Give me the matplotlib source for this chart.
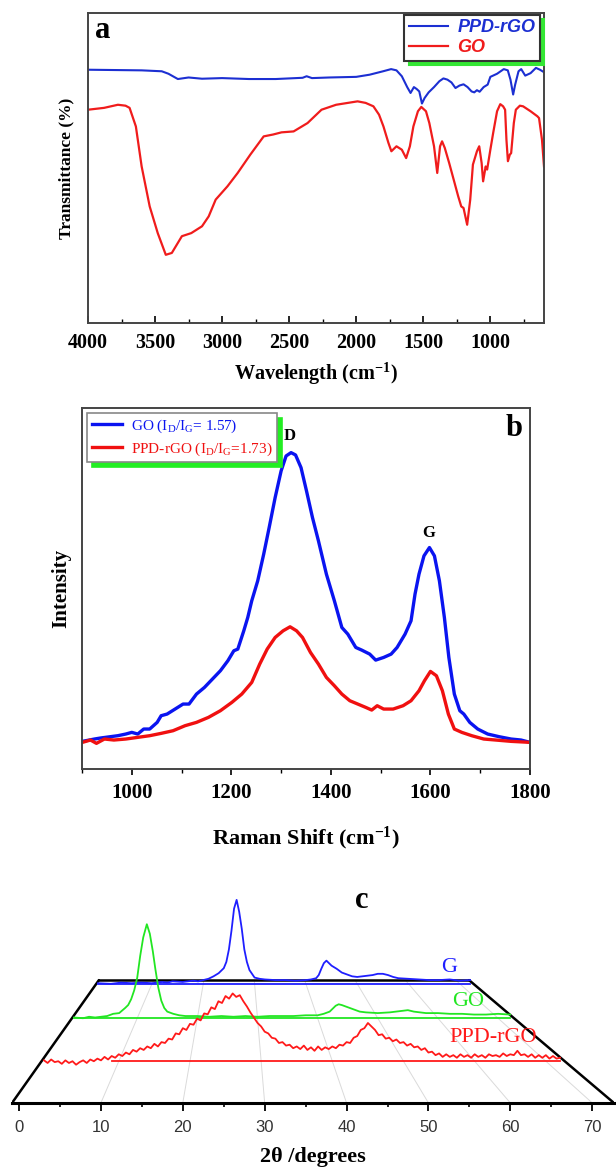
import numpy as np
import matplotlib
matplotlib.use('Agg')
import matplotlib.pyplot as plt
import matplotlib.transforms as mtransforms
from matplotlib.ticker import MultipleLocator

plt.rcParams['font.family'] = ['Liberation Serif', 'DejaVu Serif']
plt.rcParams['mathtext.fontset'] = 'custom'
plt.rcParams['mathtext.rm'] = 'Liberation Serif'
plt.rcParams['mathtext.bf'] = 'Liberation Serif:bold'
plt.rcParams['mathtext.it'] = 'Liberation Serif:italic'

# ---- (a) FTIR ----
ftir_rgo_wn = [4000, 3600, 3450, 3400, 3330, 3250, 3150, 3000, 2800, 2600, 2400, 2370, 2330, 2200,
               2000, 1900, 1800, 1740, 1700, 1660, 1620, 1595, 1570, 1550, 1530, 1510, 1490, 1460,
               1420, 1380, 1350, 1320, 1290, 1260, 1230, 1200, 1170, 1140, 1120, 1100, 1080, 1050,
               1020, 1000, 950, 900, 870, 850, 830, 815, 790, 770, 740, 700, 660, 630, 600]
ftir_rgo_t = [81.7, 81.5, 81.2, 80.4, 78.7, 79.2, 78.8, 79.0, 78.7, 78.7, 79.1, 79.6, 79.0, 79.2,
              79.4, 80.1, 81.2, 81.9, 81.5, 79.6, 76.1, 74.2, 76.1, 75.5, 74.7, 70.8, 72.6, 74.4,
              76.1, 78.0, 78.9, 78.5, 77.6, 75.8, 76.6, 77.0, 76.1, 74.7, 74.4, 75.1, 74.6, 76.1,
              76.9, 79.4, 80.4, 81.9, 81.5, 78.5, 73.7, 76.9, 81.2, 81.9, 79.8, 80.6, 82.3, 81.7, 80.9]
ftir_go_wn = [4000, 3880, 3777, 3720, 3690, 3643, 3600, 3540, 3480, 3420, 3375, 3300, 3230, 3150,
              3100, 3048, 2960, 2884, 2790, 2690, 2620, 2557, 2467, 2363, 2259, 2150, 1990, 1930,
              1872, 1830, 1797, 1760, 1738, 1700, 1660, 1628, 1600, 1574, 1540, 1515, 1480, 1455,
              1420, 1396, 1375, 1360, 1340, 1307, 1270, 1240, 1217, 1200, 1173, 1150, 1130, 1100,
              1083, 1065, 1054, 1035, 1024, 1000, 979, 950, 926, 905, 890, 880, 869, 855, 845,
              825, 810, 780, 756, 700, 650, 637, 615, 600]
ftir_go_t = [68.8, 69.4, 70.4, 70.1, 69.4, 63.4, 50.5, 37.6, 29.0, 22.0, 22.6, 28.0, 29.0, 31.2,
             34.4, 39.8, 44.1, 48.4, 54.3, 60.2, 60.8, 61.5, 61.8, 64.5, 68.8, 70.4, 71.5, 71.0,
             69.9, 67.2, 63.4, 58.1, 55.4, 57.0, 55.9, 53.2, 57.0, 63.4, 68.3, 69.7, 68.3, 64.5,
             57.0, 48.4, 57.0, 58.6, 56.5, 51.6, 45.7, 40.9, 37.6, 37.1, 31.7, 39.8, 51.1, 55.4,
             57.0, 51.6, 45.7, 50.5, 49.5, 55.9, 61.3, 68.3, 70.6, 69.9, 68.8, 59.1, 52.2, 54.3, 54.8,
             64.5, 68.8, 70.1, 69.9, 68.3, 66.7, 66.1, 59.1, 50.5]

# ---- (b) Raman ----
raman_go_x = [901, 925, 937, 957, 972, 988, 1000, 1012, 1024, 1036, 1051, 1059, 1071, 1087, 1103,
              1115, 1130, 1146, 1162, 1178, 1193, 1205, 1213, 1225, 1233, 1241, 1253, 1265, 1276,
              1288, 1300, 1310, 1320, 1329, 1340, 1351, 1363, 1375, 1391, 1407, 1422, 1434, 1450,
              1462, 1478, 1490, 1506, 1521, 1533, 1549, 1561, 1569, 1577, 1587, 1598, 1608, 1618,
              1628, 1637, 1648, 1659, 1667, 1679, 1695, 1715, 1738, 1762, 1782, 1800]
raman_go_y = [83, 90, 93, 97, 100, 105, 110, 105, 120, 120, 140, 160, 165, 180, 195,
              195, 225, 245, 270, 295, 325, 355, 360, 415, 455, 505, 565, 645, 725,
              815, 895, 940, 950, 943, 905, 835, 755, 685, 585, 505, 425, 405, 365,
              357, 345, 327, 335, 345, 365, 405, 445, 525, 585, 640, 665, 640, 565,
              455, 335, 225, 175, 165, 140, 120, 105, 97, 90, 87, 80]
raman_rgo_x = [901, 917, 929, 945, 964, 988, 1012, 1036, 1059, 1083, 1107, 1130, 1154, 1178, 1201,
               1221, 1241, 1257, 1272, 1288, 1304, 1318, 1331, 1343, 1359, 1375, 1391, 1407, 1422,
               1438, 1454, 1470, 1482, 1493, 1506, 1525, 1545, 1561, 1577, 1588, 1600, 1612, 1624,
               1636, 1648, 1663, 1683, 1707, 1731, 1762, 1800]
raman_rgo_y = [80, 87, 77, 90, 87, 90, 95, 100, 107, 115, 130, 140, 155, 175, 200,
               225, 260, 315, 360, 395, 415, 427, 415, 395, 350, 315, 275, 250, 225,
               205, 195, 185, 177, 190, 180, 180, 190, 205, 235, 265, 293, 280, 235,
               165, 120, 110, 100, 90, 87, 83, 80]

# ---- (c) XRD ----
xrd_g_tt = [-0.5, 2, 4, 6, 8, 10, 12, 13, 14, 16, 18, 19, 20, 21, 22, 23, 24, 24.5, 25, 25.5, 26,
            26.5, 27, 27.5, 28, 28.5, 29, 30, 31, 32, 34, 36, 38, 40, 41, 42, 42.5, 43, 43.5, 44,
            44.5, 45, 46, 47, 48, 49, 50, 51, 52, 53, 54, 55, 56, 57, 58, 60, 62, 64, 66, 68, 70, 72]
xrd_g_i = [1, 0, 2, 1, 2, 1, 3, 2, 4, 3, 5, 4, 6, 8, 12, 17, 25, 35, 55, 85, 120,
           134, 115, 88, 55, 35, 22, 10, 8, 7, 6, 6, 5, 6, 7, 9, 14, 24, 33, 37,
           33, 29, 24, 18, 15, 12, 11, 12, 13, 14, 16, 16, 14, 11, 9, 8, 7, 6, 6, 7, 5, 6]
xrd_go_tt = [-0.5, 1, 2, 3, 4, 5, 6, 7, 8, 8.5, 9, 9.5, 10, 10.5, 11, 11.6, 12.1, 12.6, 13, 13.5,
             14, 14.5, 15, 16, 17, 18, 20, 22, 24, 26, 28, 30, 32, 34, 36, 38, 40, 41, 42, 42.5,
             43, 43.5, 44, 45, 46, 47, 48, 50, 52, 54, 55, 56, 58, 60, 62, 64, 66, 68, 70, 72]
xrd_go_i = [1, 0, 2, 1, 2, 3, 6, 7, 14, 18, 26, 38, 55, 85, 110, 128, 115, 91, 68, 42,
            24, 14, 9, 6, 4, 3, 3, 2, 3, 2, 3, 2, 3, 3, 3, 4, 4, 6, 9, 13,
            17, 19, 18, 15, 12, 9, 8, 7, 8, 10, 11, 9, 7, 7, 6, 6, 5, 5, 6, 5]
xrd_rgo_tt = [-0.5 + 0.5 * k for k in range(146)]
xrd_rgo_i = [1, -2, 2, -1, 0, -3, 1, -2, 0, -4, -1, 1, -2, 2, 0, 3, 1, 5, 2, 6,
             4, 8, 6, 10, 8, 13, 11, 15, 13, 17, 15, 20, 17, 22, 21, 26, 25, 32, 31, 38,
             36, 43, 42, 49, 47, 55, 54, 62, 60, 69, 67, 75, 72, 78, 74, 76, 69, 63, 56, 50,
             44, 40, 34, 32, 27, 26, 21, 22, 18, 19, 15, 17, 14, 18, 13, 16, 12, 17, 13, 16,
             14, 17, 15, 19, 18, 22, 21, 27, 29, 36, 38, 44, 40, 36, 30, 31, 26, 27, 23, 25,
             21, 22, 18, 20, 16, 17, 13, 15, 10, 11, 7, 9, 5, 8, 5, 7, 4, 8, 5, 7,
             4, 8, 5, 7, 4, 8, 6, 7, 5, 9, 6, 8, 7, 12, 7, 8, 5, 8, 4, 7,
             4, 7, 3, 6, 3, 4]
xrd_labels = ['G', 'GO', 'PPD-rGO']
xrd_depth = [0.97, 0.69, 0.34]
xrd_base_start = [-0.5, -0.5, 9.0]
xrd_colors = ['#1f1fff', '#22e622', '#ff1a1a']

W, H = 616, 1169
fig = plt.figure(figsize=(W / 100, H / 100), dpi=100)


def box(l, t, r, b):
    return [l / W, 1 - b / H, (r - l) / W, (b - t) / H]


tick_font = {'family': 'Liberation Serif', 'weight': 'bold', 'size': 14.5}

# panel a
ax1 = fig.add_axes(box(88, 13, 544, 323))
ax1.plot(ftir_rgo_wn, ftir_rgo_t, color='#1c2fd2', lw=1.5, label='PPD-rGO')
ax1.plot(ftir_go_wn, ftir_go_t, color='#f01c1c', lw=1.6, label='GO')
ax1.set_xlim(4000, 600)
ax1.set_ylim(0, 100)
ax1.set_yticks([])
ax1.xaxis.set_major_locator(MultipleLocator(500))
ax1.xaxis.set_minor_locator(MultipleLocator(250))
ax1.tick_params(axis='x', which='both', direction='in', top=False, pad=7)
ax1.tick_params(axis='x', which='major', length=5, width=1.2)
ax1.tick_params(axis='x', which='minor', length=3, width=1.0)
for lab in ax1.get_xticklabels():
    lab.set_fontproperties(tick_font)
ax1.set_xlabel('Wavelength (cm$^{\\mathbf{-1}}$)', fontsize=14.5, fontweight='bold', labelpad=6)
ax1.set_ylabel('Transmittance (%)', fontsize=12.5, fontweight='bold', labelpad=10)
for sp in ax1.spines.values():
    sp.set_color('#444444')
    sp.set_linewidth(1.4)
leg1 = ax1.legend(loc='upper right', bbox_to_anchor=(0.991, 0.994), borderaxespad=0,
                  prop={'family': 'Liberation Sans', 'weight': 'bold', 'style': 'italic', 'size': 13},
                  labelcolor='linecolor', fancybox=False, framealpha=1, edgecolor='#333333',
                  shadow={'ox': 3.2, 'oy': -3.2, 'color': '#33e633', 'alpha': 1},
                  handlelength=2.2, borderpad=0.25, labelspacing=0.15, handletextpad=0.5)
leg1.get_frame().set_linewidth(1.5)
fig.text(103 / W, 1 - 30 / H, 'a', fontsize=22, fontweight='bold', ha='center', va='center')

# panel b
ax2 = fig.add_axes(box(82, 408, 530, 769))
ax2.plot(raman_go_x, raman_go_y, color='#0a14f0', lw=2.4, solid_joinstyle='round',
         label='GO (I$_\\mathrm{D}$/I$_\\mathrm{G}$= 1.57)')
ax2.plot(raman_rgo_x, raman_rgo_y, color='#f01010', lw=2.4, solid_joinstyle='round',
         label='PPD-rGO (I$_\\mathrm{D}$/I$_\\mathrm{G}$=1.73)')
ax2.set_xlim(900, 1800)
ax2.set_ylim(0, 1084)
ax2.set_yticks([])
ax2.xaxis.set_major_locator(MultipleLocator(200))
ax2.xaxis.set_minor_locator(MultipleLocator(100))
ax2.tick_params(axis='x', which='both', direction='out', top=False, pad=6)
ax2.tick_params(axis='x', which='major', length=4, width=1.2)
ax2.tick_params(axis='x', which='minor', length=3, width=1.0)
for lab in ax2.get_xticklabels():
    lab.set_fontproperties(dict(tick_font, size=15))
ax2.set_xlabel('Raman Shift (cm$^{\\mathbf{-1}}$)', fontsize=16, fontweight='bold', labelpad=16)
ax2.set_ylabel('Intensity', fontsize=15, fontweight='bold', labelpad=8)
for sp in ax2.spines.values():
    sp.set_color('#444444')
    sp.set_linewidth(1.4)
ax2.text(1318, 1000, 'D', fontsize=12, fontweight='bold', ha='center', va='center')
ax2.text(1596, 709, 'G', fontsize=12, fontweight='bold', ha='center', va='center')
leg2 = ax2.legend(loc='upper left', bbox_to_anchor=(0.011, 0.986), borderaxespad=0,
                  prop={'family': 'Liberation Serif', 'size': 11},
                  labelcolor='linecolor', fancybox=False, framealpha=1, edgecolor='#888888',
                  shadow={'ox': 3.6, 'oy': -3.6, 'color': '#22ee22', 'alpha': 1},
                  handlelength=2.0, borderpad=0.3, labelspacing=0.35, handletextpad=0.6)
leg2.get_frame().set_linewidth(1.2)
fig.text(514 / W, 1 - 428 / H, 'b', fontsize=22, fontweight='bold', ha='center', va='center')

# panel c: waterfall on a perspective floor
ax3 = fig.add_axes(box(12, 865, 614, 1103))
U0, U1 = -0.85, 72.65      # floor extent in 2theta units (front edge)
VX = 26.7                  # vanishing point, 2theta units
SHRINK = 0.385             # scale lost from front to back edge
DEPTH_H = 15.0             # floor depth on screen (data units)
KY = 1 / 8.19              # intensity (a.u.) to data units
ax3.set_xlim(U0, U1)
ax3.set_ylim(0, 29.06)


def plane(d):
    s = 1 - SHRINK * d
    return mtransforms.Affine2D().translate(-VX, 0).scale(s, s * KY).translate(VX, DEPTH_H * d) + ax3.transData


def floor_xy(u, d):
    d = np.asarray(d, dtype=float)
    return VX + (u - VX) * (1 - SHRINK * d), DEPTH_H * d


for u in range(10, 71, 10):
    gx, gy = floor_xy(u, [0, 1])
    ax3.plot(gx, gy, color='#dadada', lw=0.7, zorder=1)
for u in (U0, U1):
    ex, ey = floor_xy(u, [0, 1])
    ax3.plot(ex, ey, color='black', lw=1.8, zorder=2, solid_capstyle='round')
bx, by = floor_xy(np.array([U0, U1]), [1, 1])
ax3.plot(bx, by, color='black', lw=1.8, zorder=2)

traces = [(xrd_g_tt, xrd_g_i), (xrd_go_tt, xrd_go_i), (xrd_rgo_tt, xrd_rgo_i)]
for (tt, inten), d, c, b0 in zip(traces, xrd_depth, xrd_colors, xrd_base_start):
    tr = plane(d)
    ax3.plot([b0, tt[-1]], [0, 0], color=c, lw=1.3, transform=tr, zorder=3)
    ax3.plot(tt, inten, color=c, lw=1.3, transform=tr, zorder=4)

ax3.text(52.5, 16.5, xrd_labels[0], color=xrd_colors[0], fontsize=16, ha='center', va='center')
ax3.text(54.8, 12.45, xrd_labels[1], color=xrd_colors[1], fontsize=16, ha='center', va='center')
ax3.text(57.9, 7.94, xrd_labels[2], color=xrd_colors[2], fontsize=16, ha='center', va='center')

for sp in ('top', 'left', 'right'):
    ax3.spines[sp].set_visible(False)
ax3.spines['bottom'].set_linewidth(2.2)
ax3.set_yticks([])
ax3.set_xticks(range(0, 71, 10))
ax3.xaxis.set_minor_locator(MultipleLocator(5))
ax3.tick_params(axis='x', which='major', direction='out', length=6, width=1.3, pad=6, labelcolor='#333333')
ax3.tick_params(axis='x', which='minor', direction='out', length=3, width=1.2)
for lab in ax3.get_xticklabels():
    lab.set_fontproperties({'family': 'Liberation Sans', 'size': 12})
ax3.set_xlabel('2θ /degrees', fontsize=16, fontweight='bold', labelpad=9)
fig.text(362 / W, 1 - 900 / H, 'c', fontsize=22, fontweight='bold', ha='center', va='center')

fig.savefig('out.png', dpi=100, facecolor='white')
